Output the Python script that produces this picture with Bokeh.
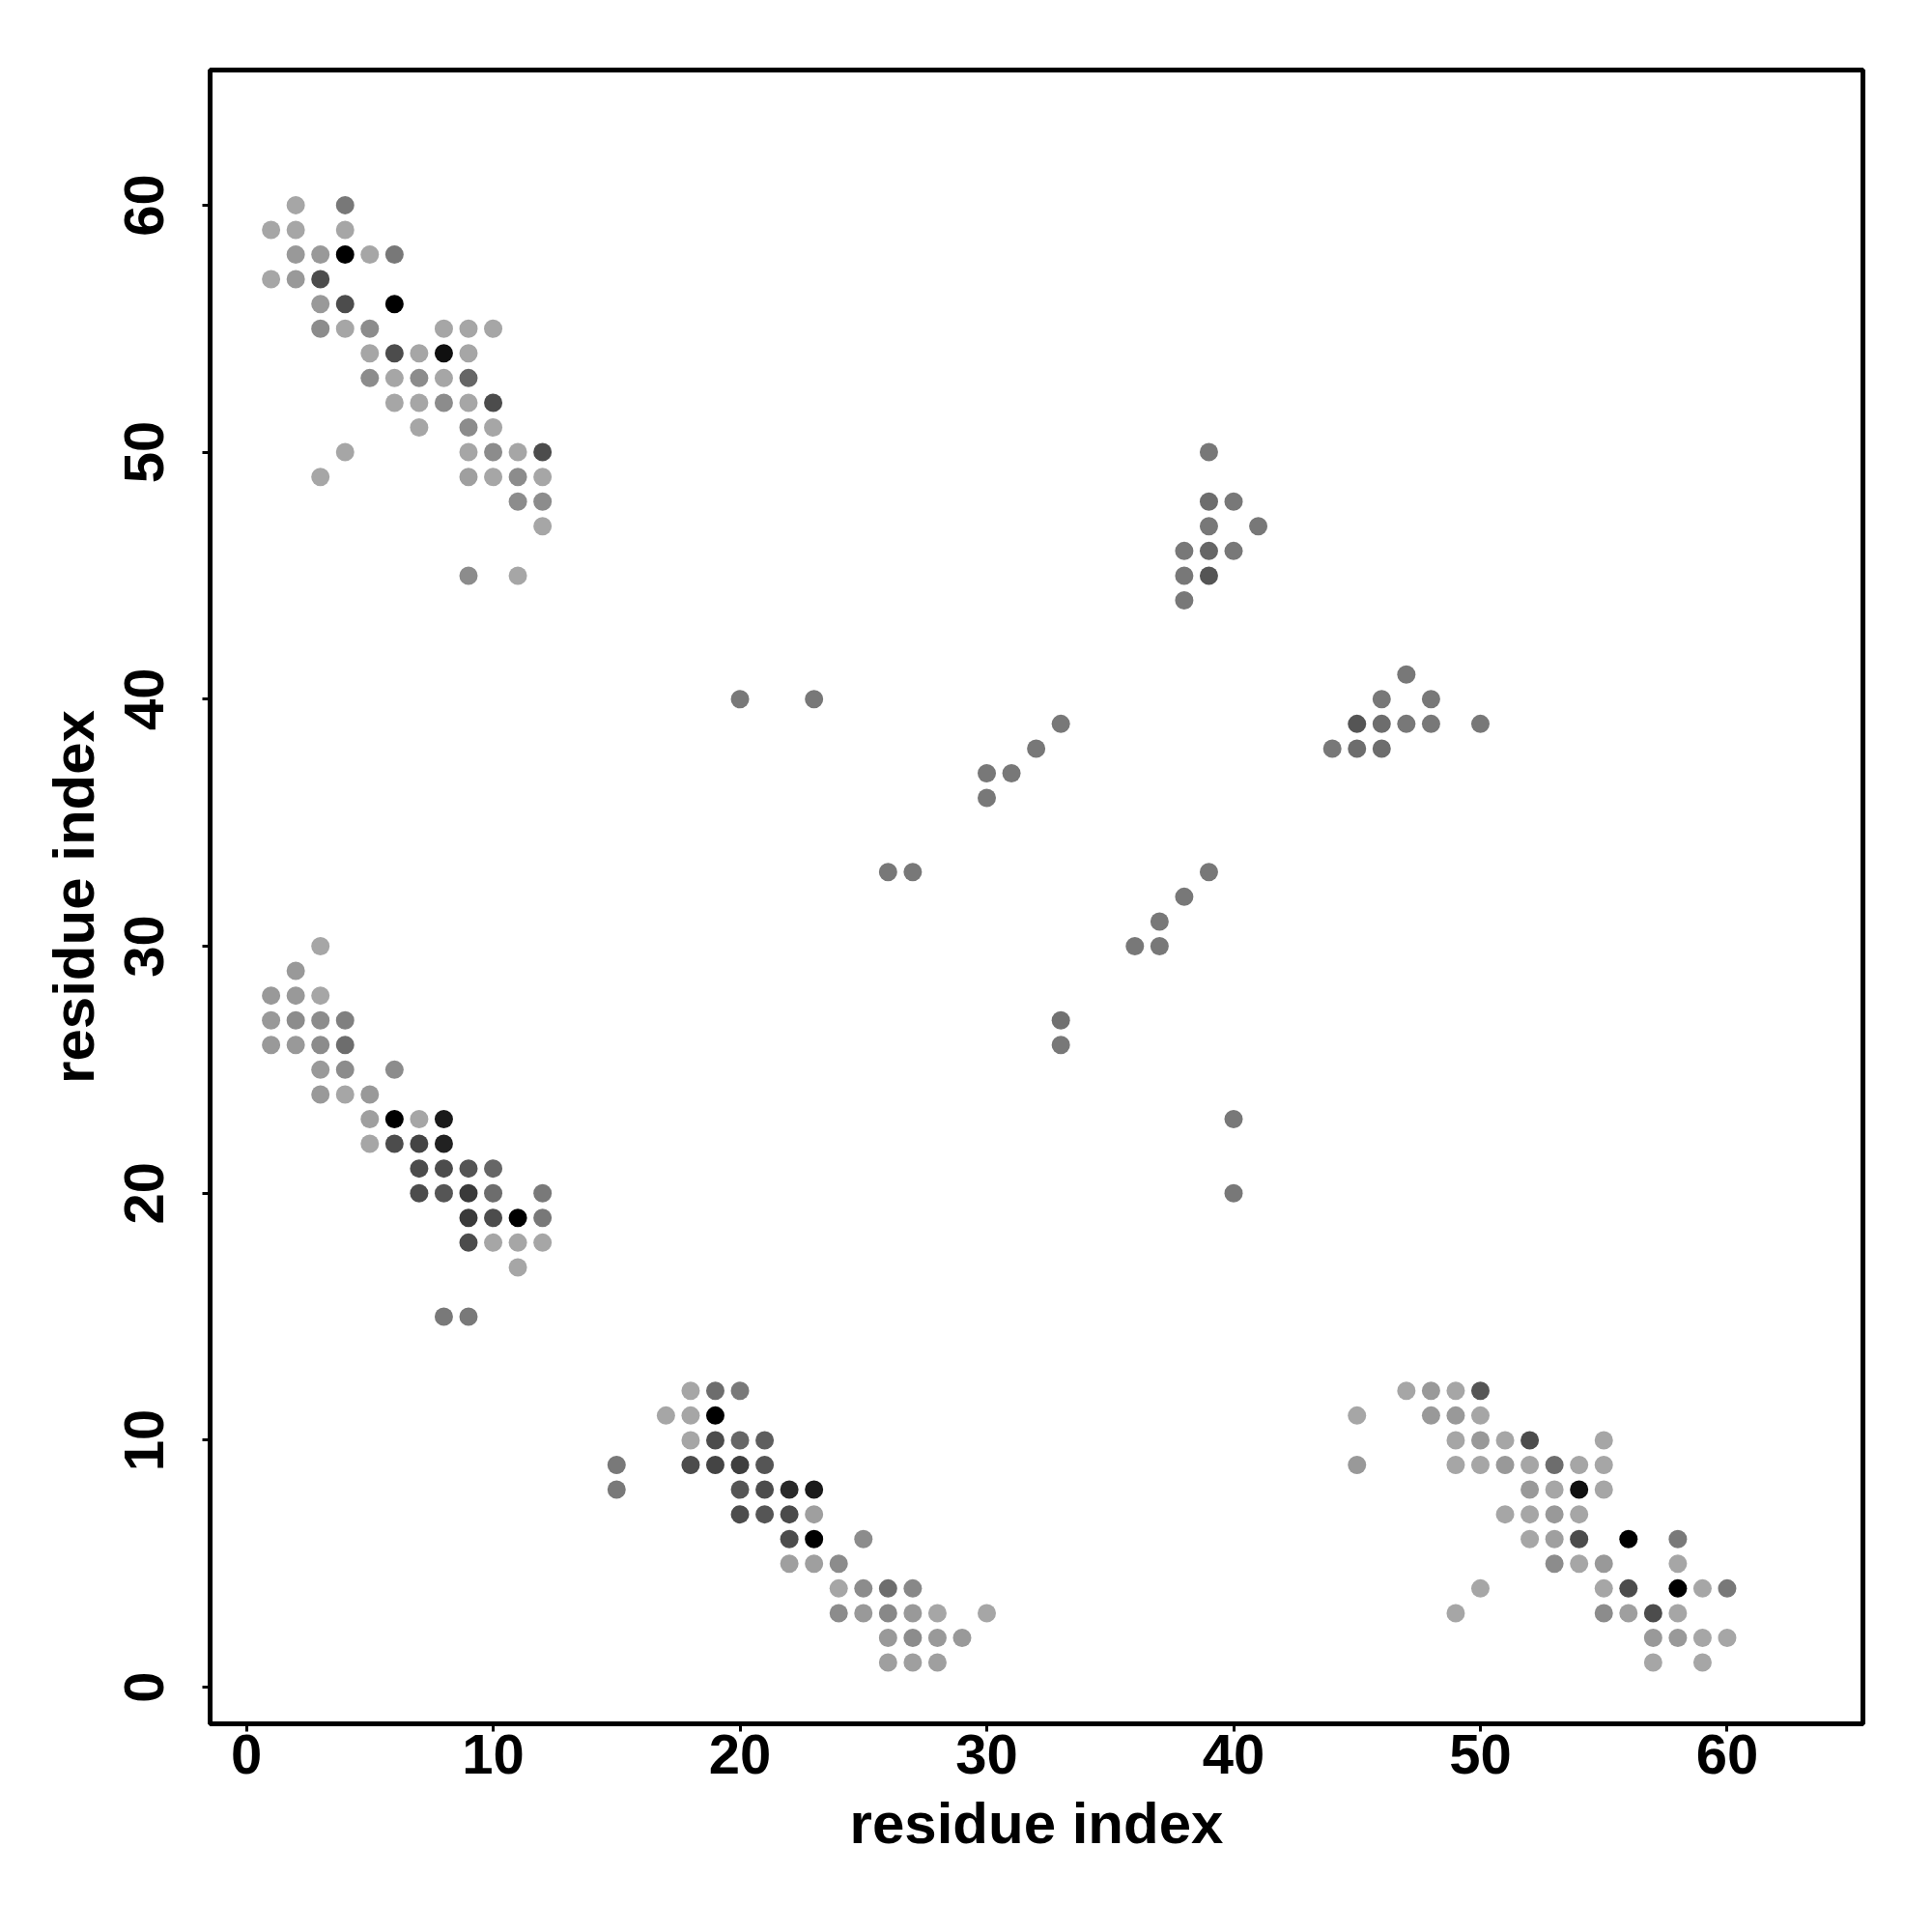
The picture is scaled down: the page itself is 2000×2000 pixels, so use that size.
import math
from bokeh.plotting import figure
from bokeh.models import ColumnDataSource, LinearColorMapper, FixedTicker, Range1d
from bokeh.embed import file_html
from bokeh.resources import INLINE

# residue pair (i, j) and contact strength (0 = weak/light, 1 = strong/black)
res_i = [
    2, 4, 1, 2, 4, 2, 3, 4, 5, 6, 1, 2, 3, 3, 4, 6, 3, 4, 5, 8, 9, 10,
    5, 6, 7, 8, 9, 5, 6, 7, 8, 9, 6, 7, 8, 9, 10, 7, 9, 10,
    4, 9, 10, 11, 12, 3, 9, 10, 11, 12, 11, 12, 12, 9, 11,
    3, 2, 1, 2, 3, 1, 2, 3, 4, 1, 2, 3, 4, 3, 4, 6, 3, 4, 5,
    5, 6, 7, 8, 5, 6, 7, 8, 7, 8, 9, 10, 7, 8, 9, 10, 12,
    9, 10, 11, 12, 9, 10, 11, 12, 11, 8, 9,
    18, 19, 20, 17, 18, 19, 18, 19, 20, 21, 15, 18, 19, 20, 21,
    15, 20, 21, 22, 23, 20, 21, 22, 23, 22, 23, 25, 22, 23, 24,
    24, 25, 26, 27, 24, 25, 26, 27, 28, 30, 26, 27, 28, 29, 26, 27, 28,
    47, 48, 49, 50, 45, 48, 49, 50, 49, 50, 51, 52, 55,
    45, 49, 50, 51, 52, 53, 54, 55, 52, 53, 54, 55, 51, 52, 53, 54,
    52, 53, 54, 56, 58, 53, 54, 55, 58, 50, 55, 56, 58, 59, 60,
    49, 55, 56, 57, 58, 57, 58, 59, 60, 57, 59,
    39, 39, 40, 39, 41, 38, 39, 40, 38, 39, 38,
    47, 46, 48, 45, 46, 47, 48, 50, 44, 45, 46,
    20, 23, 33, 32, 30, 31, 30, 26, 27, 39, 38, 37, 36, 37, 33, 33, 40, 40,
]
res_j = [
    60, 60, 59, 59, 59, 58, 58, 58, 58, 58, 57, 57, 57, 56, 56, 56, 55, 55, 55, 55, 55, 55,
    54, 54, 54, 54, 54, 53, 53, 53, 53, 53, 52, 52, 52, 52, 52, 51, 51, 51,
    50, 50, 50, 50, 50, 49, 49, 49, 49, 49, 48, 48, 47, 45, 45,
    30, 29, 28, 28, 28, 27, 27, 27, 27, 26, 26, 26, 26, 25, 25, 25, 24, 24, 24,
    23, 23, 23, 23, 22, 22, 22, 22, 21, 21, 21, 21, 20, 20, 20, 20, 20,
    19, 19, 19, 19, 18, 18, 18, 18, 17, 15, 15,
    12, 12, 12, 11, 11, 11, 10, 10, 10, 10, 9, 9, 9, 9, 9,
    8, 8, 8, 8, 8, 7, 7, 7, 7, 6, 6, 6, 5, 5, 5,
    4, 4, 4, 4, 3, 3, 3, 3, 3, 3, 2, 2, 2, 2, 1, 1, 1,
    12, 12, 12, 12, 11, 11, 11, 11, 10, 10, 10, 10, 10,
    9, 9, 9, 9, 9, 9, 9, 9, 8, 8, 8, 8, 7, 7, 7, 7,
    6, 6, 6, 6, 6, 5, 5, 5, 5, 4, 4, 4, 4, 4, 4,
    3, 3, 3, 3, 3, 2, 2, 2, 2, 1, 1,
    50, 48, 48, 47, 47, 46, 46, 46, 45, 45, 44,
    41, 40, 40, 39, 39, 39, 39, 39, 38, 38, 38,
    40, 40, 39, 38, 37, 37, 36, 33, 33, 33, 32, 31, 30, 30, 27, 26, 23, 20,
]
score = [
    0.0, 0.28, 0.0, 0.0, 0.0, 0.08, 0.08, 1.0, 0.0, 0.28, 0.0, 0.08, 0.54, 0.08, 0.54, 1.0, 0.16, 0.0, 0.16, 0.0, 0.0, 0.0,
    0.0, 0.54, 0.0, 0.9, 0.0, 0.16, 0.0, 0.16, 0.0, 0.39, 0.0, 0.0, 0.16, 0.0, 0.54, 0.0, 0.16, 0.0,
    0.0, 0.0, 0.16, 0.0, 0.54, 0.0, 0.04, 0.0, 0.16, 0.0, 0.16, 0.16, 0.0, 0.16, 0.0,
    0.0, 0.08, 0.08, 0.08, 0.0, 0.08, 0.16, 0.16, 0.23, 0.08, 0.08, 0.16, 0.34, 0.08, 0.16, 0.16, 0.08, 0.0, 0.08,
    0.04, 1.0, 0.0, 0.84, 0.0, 0.54, 0.59, 0.8, 0.54, 0.54, 0.49, 0.39, 0.54, 0.49, 0.65, 0.34, 0.27,
    0.65, 0.54, 1.0, 0.28, 0.54, 0.0, 0.0, 0.0, 0.0, 0.27, 0.27,
    0.0, 0.34, 0.27, 0.0, 0.0, 1.0, 0.0, 0.54, 0.39, 0.43, 0.27, 0.54, 0.59, 0.62, 0.49,
    0.27, 0.49, 0.54, 0.75, 0.84, 0.54, 0.49, 0.55, 0.04, 0.54, 1.0, 0.16, 0.04, 0.04, 0.16,
    0.0, 0.16, 0.34, 0.18, 0.16, 0.08, 0.18, 0.08, 0.0, 0.0, 0.08, 0.16, 0.08, 0.08, 0.04, 0.04, 0.04,
    0.0, 0.08, 0.0, 0.49, 0.0, 0.08, 0.08, 0.0, 0.0, 0.08, 0.0, 0.54, 0.0,
    0.08, 0.0, 0.0, 0.08, 0.0, 0.34, 0.0, 0.0, 0.08, 0.0, 0.9, 0.0, 0.0, 0.0, 0.08, 0.0,
    0.0, 0.04, 0.54, 1.0, 0.27, 0.16, 0.0, 0.08, 0.0, 0.0, 0.0, 0.54, 1.0, 0.0, 0.28,
    0.0, 0.16, 0.04, 0.54, 0.0, 0.08, 0.08, 0.0, 0.0, 0.0, 0.0,
    0.28, 0.34, 0.28, 0.28, 0.28, 0.28, 0.39, 0.28, 0.28, 0.49, 0.28,
    0.28, 0.28, 0.28, 0.49, 0.34, 0.28, 0.28, 0.28, 0.28, 0.34, 0.34,
    0.28, 0.28, 0.28, 0.28, 0.28, 0.28, 0.28, 0.28, 0.28, 0.28, 0.28, 0.28, 0.28, 0.28, 0.32, 0.28, 0.28, 0.28,
]
tick_values = [0, 10, 20, 30, 40, 50, 60]
x_title = "residue index"
y_title = "residue index"

source = ColumnDataSource(dict(x=res_i, y=res_j, s=score))

greys = ["#%02x%02x%02x" % (g, g, g) for g in [round(166 - 166 * k / 255) for k in range(256)]]
mapper = LinearColorMapper(palette=greys, low=0.0, high=1.0)

p = figure(width=1984, height=1984, output_backend="svg", toolbar_location=None,
           x_range=Range1d(-1.47, 65.5), y_range=Range1d(-1.48, 65.47),
           min_border_left=217, min_border_right=56, min_border_top=72, min_border_bottom=200)

p.scatter("x", "y", source=source, size=19, marker="circle",
          fill_color={"field": "s", "transform": mapper}, line_color=None)

p.grid.visible = False
p.outline_line_color = "black"
p.outline_line_width = 5
p.background_fill_color = "white"
p.border_fill_color = "white"

for ax in (p.xaxis[0], p.yaxis[0]):
    ax.ticker = FixedTicker(ticks=tick_values)
    ax.axis_line_color = None
    ax.major_tick_out = 8
    ax.major_tick_in = 0
    ax.major_tick_line_width = 3
    ax.major_tick_line_color = "black"
    ax.minor_tick_line_color = None
    ax.major_label_text_font = "Liberation Sans"
    ax.major_label_text_font_style = "bold"
    ax.major_label_text_font_size = "58px"
    ax.major_label_text_color = "black"
    ax.axis_label_text_font = "Liberation Sans"
    ax.axis_label_text_font_style = "bold"
    ax.axis_label_text_font_size = "60px"
    ax.axis_label_text_color = "black"

p.xaxis.axis_label = x_title
p.yaxis.axis_label = y_title
p.xaxis.major_label_standoff = 3
p.xaxis.axis_label_standoff = 15
p.yaxis.major_label_orientation = "parallel"
p.yaxis.major_label_standoff = 40
p.yaxis.axis_label_standoff = 17

open("out.html", "w").write(file_html(p, INLINE))
